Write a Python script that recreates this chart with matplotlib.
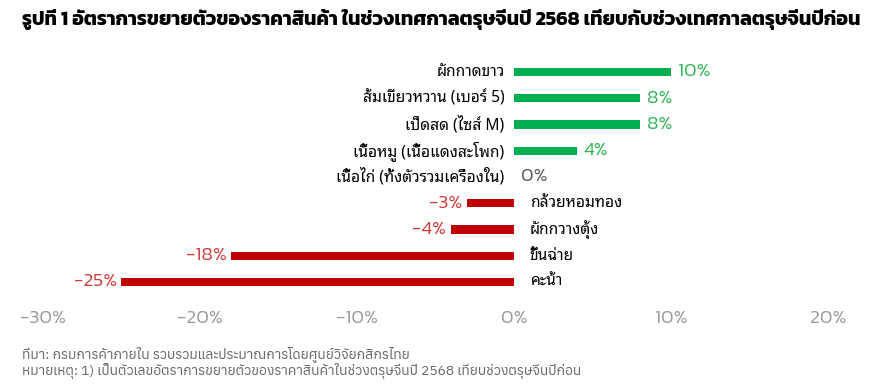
import matplotlib
matplotlib.use("Agg")
import matplotlib.pyplot as plt

# data
categories = ["ผักกาดขาว", "ส้มเขียวหวาน (เบอร์ 5)", "เป็ดสด (ไซส์ M)",
              "เนื้อหมู (เนื้อแดงสะโพก)", "เนื้อไก่ (ทั้งตัวรวมเครื่องใน)",
              "กล้วยหอมทอง", "ผักกวางตุ้ง", "ขึ้นฉ่าย", "คะน้า"]
values = [10, 8, 8, 4, 0, -3, -4, -18, -25]
xticks = [-30, -20, -10, 0, 10, 20]
xtick_labels = ["-30%", "-20%", "-10%", "0%", "10%", "20%"]

title = "รูปที่ 1 อัตราการขยายตัวของราคาสินค้า ในช่วงเทศกาลตรุษจีนปี 2568 เทียบกับช่วงเทศกาลตรุษจีนปีก่อน"
notes = ["ที่มา: กรมการค้าภายใน รวบรวมและประมาณการโดยศูนย์วิจัยกสิกรไทย",
         "หมายเหตุ: 1) เป็นตัวเลขอัตราการขยายตัวของราคาสินค้าในช่วงตรุษจีนปี 2568 เทียบช่วงตรุษจีนปีก่อน"]

plt.rcParams["font.family"] = ["Anuphan", "DejaVu Sans"]
title_font = ["Kanit", "DejaVu Sans"]
label_font = ["Noto Sans Thai Looped", "DejaVu Sans"]
num_font = ["Kanit", "DejaVu Sans"]

green = "#00B050"
red = "#C00000"
green_txt = "#2fb454"
red_txt = "#d23a3a"

fig = plt.figure(figsize=(8.86, 3.91), dpi=100)
W, H = 886, 391
ax = fig.add_axes([43 / W, 1 - 300 / H, (828 - 43) / W, (300 - 60) / H])

ypos = list(range(len(categories)))
colors = [green if v > 0 else red for v in values]
ax.barh(ypos, values, height=0.32, color=colors)

for y, c, v in zip(ypos, categories, values):
    if v >= 0:
        ax.text(-0.6, y, c, ha="right", va="center", fontsize=11.2, family=label_font)
    else:
        ax.text(1.0, y, c, ha="left", va="center", fontsize=11.2, family=label_font,
                fontweight="medium")
    if v > 0:
        ax.text(v + 0.45, y, f"{v}%", ha="left", va="center", fontsize=14,
                color=green_txt, family=num_font, fontweight=300)
    elif v < 0:
        ax.text(v - 0.3, y, f"{v}%", ha="right", va="center", fontsize=14,
                color=red_txt, family=num_font, fontweight=300)
    else:
        ax.text(0.45, y, f"{v}%", ha="left", va="center", fontsize=14,
                color="#555555", family=num_font, fontweight=300)

ax.set_xlim(-30, 20)
ax.set_ylim(8.686, -0.457)
ax.set_xticks(xticks)
ax.set_xticklabels(xtick_labels, fontsize=14, color="#999999", family=num_font,
                   fontweight=300)
ax.set_yticks([])
ax.tick_params(axis="x", length=0, pad=7)
for s in ax.spines.values():
    s.set_visible(False)

fig.text(22 / W, 1 - 20 / H, title, fontsize=14.1, fontweight="bold", va="center",
         ha="left", family=title_font)
fig.text(22 / W, 1 - 354 / H, notes[0], fontsize=10, color="#666666", va="center")
fig.text(22 / W, 1 - 370 / H, notes[1], fontsize=10, color="#666666", va="center")

fig.savefig("out.png", dpi=100)
